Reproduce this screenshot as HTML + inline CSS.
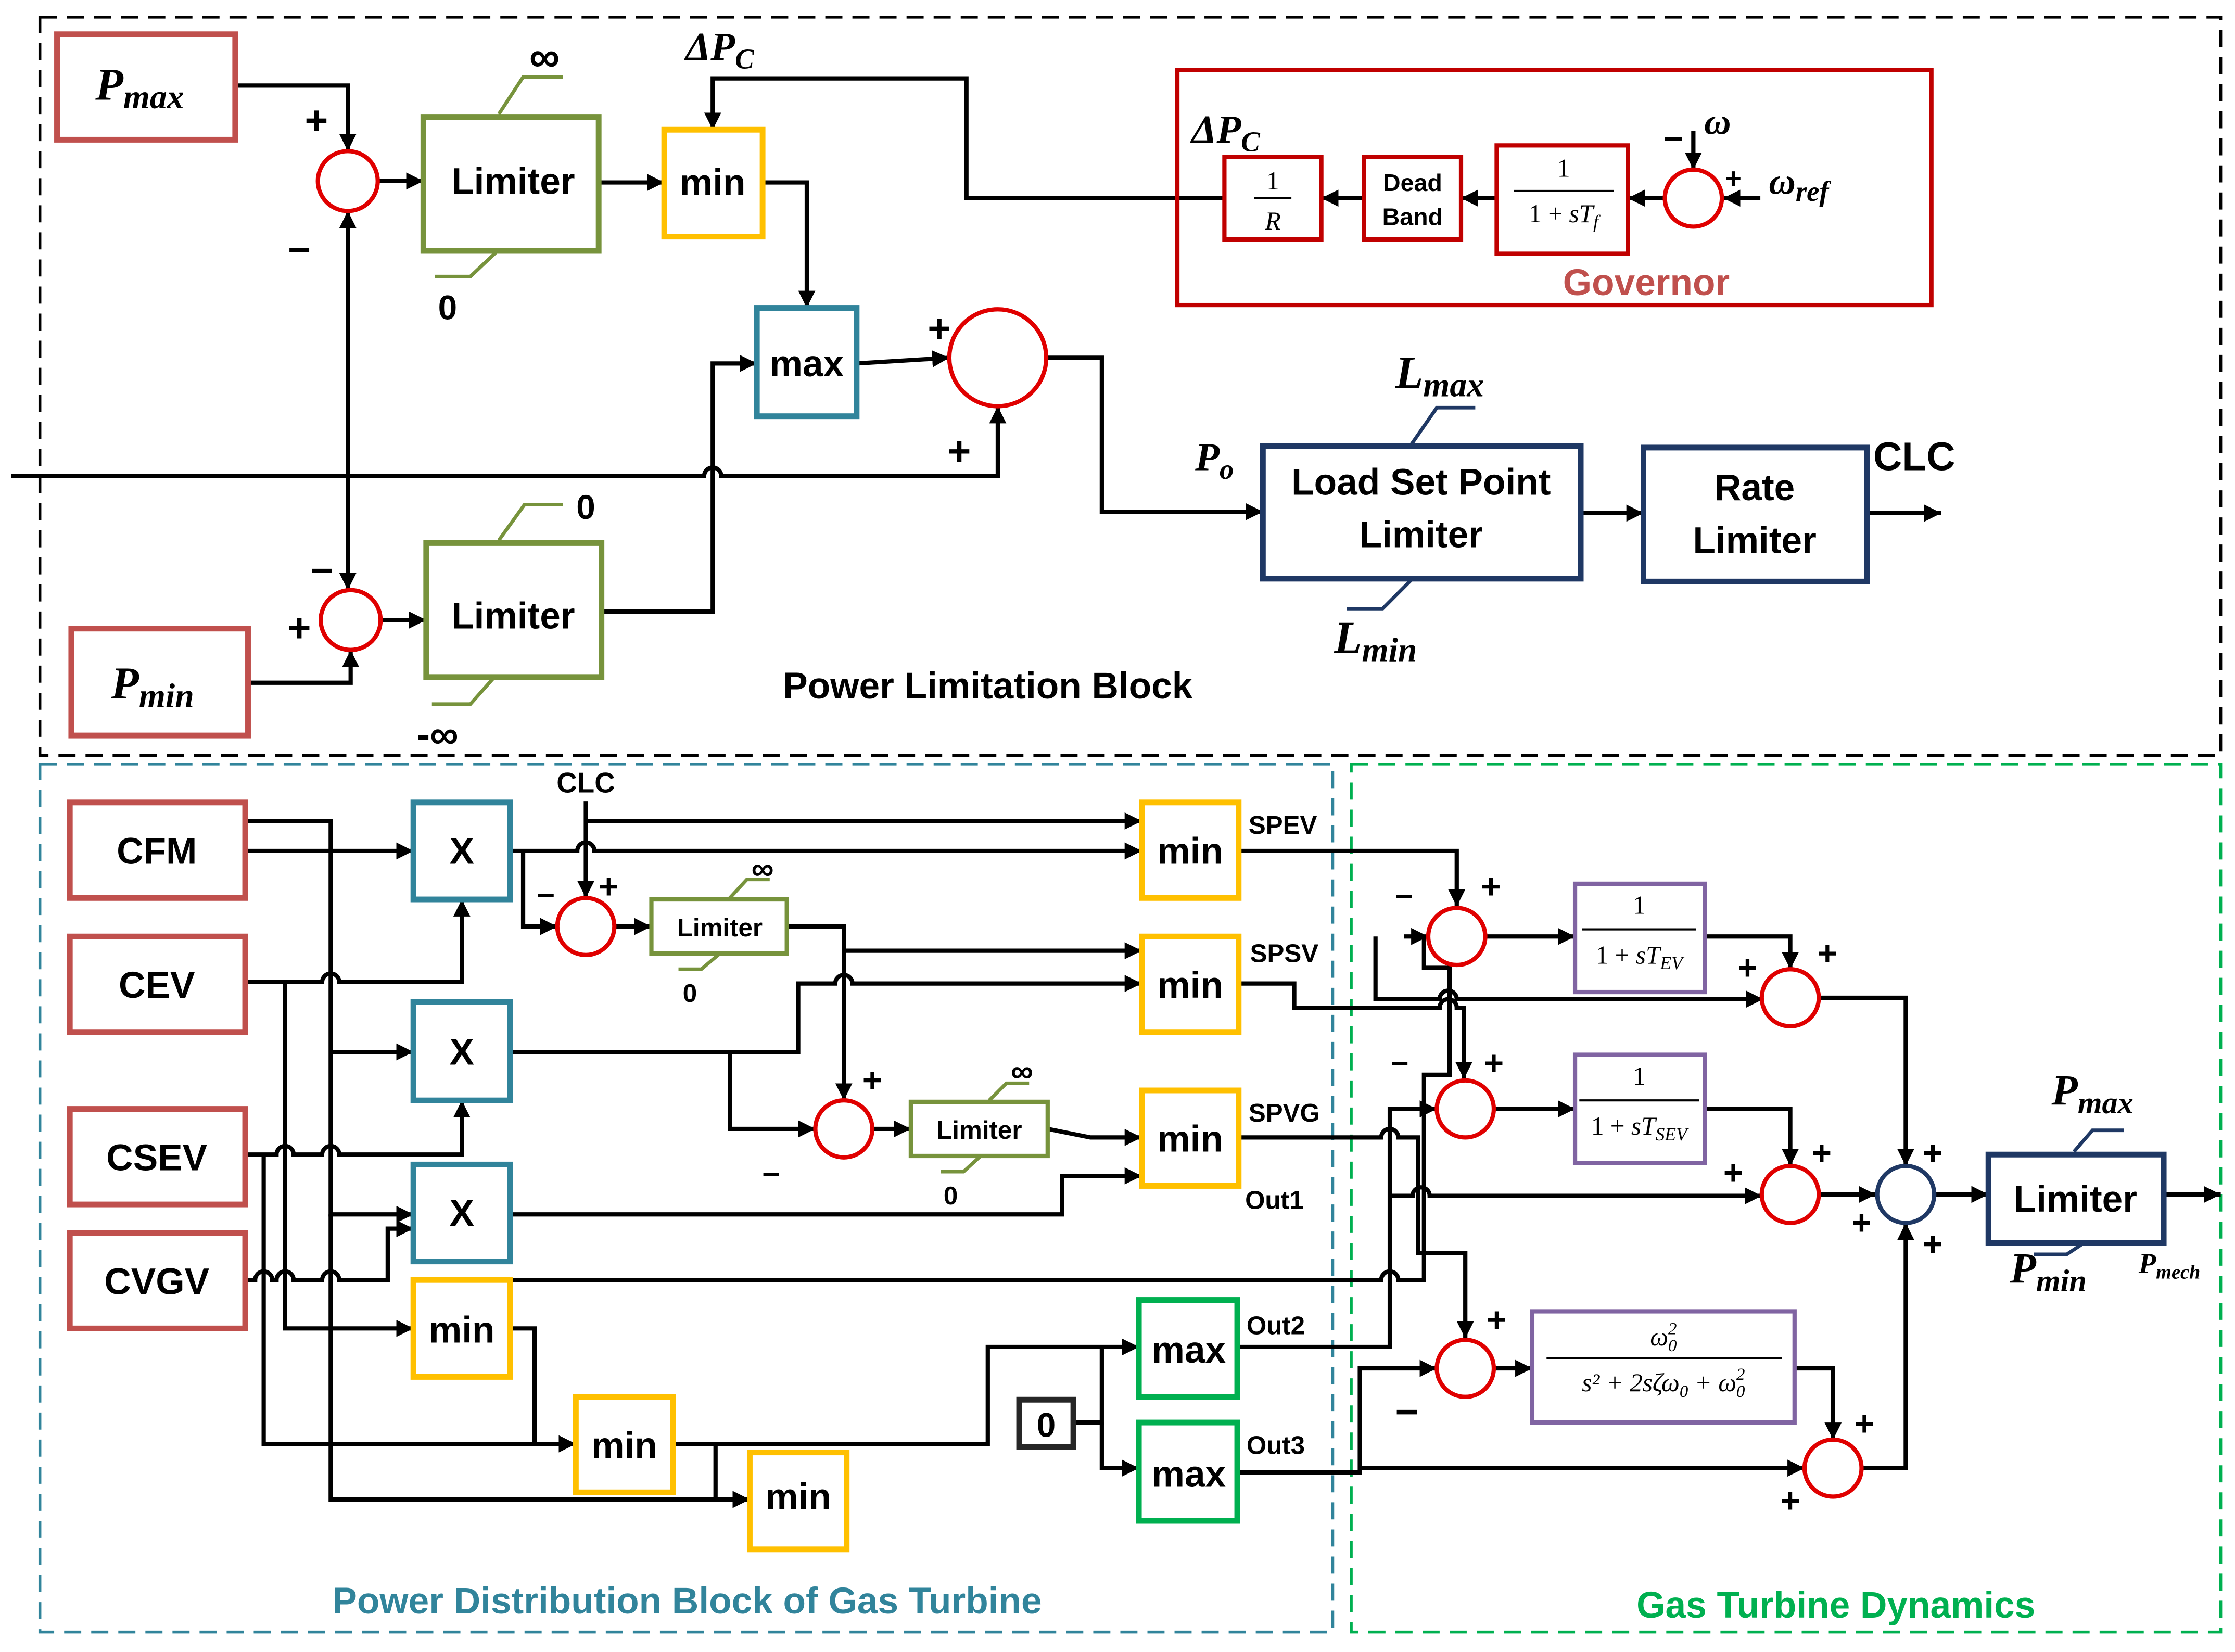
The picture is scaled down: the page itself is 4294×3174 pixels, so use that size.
<!DOCTYPE html>
<html><head><meta charset="utf-8"><style>
html,body{margin:0;padding:0;background:#fff;}
svg{display:block;}
text{font-family:"Liberation Sans",sans-serif;font-weight:bold;}
.s{font-family:"Liberation Serif",serif;font-style:italic;font-weight:bold;}
.f{font-family:"Liberation Serif",serif;font-weight:normal;}
</style></head><body>
<svg width="4294" height="3174" viewBox="0 0 1568 1159" xmlns="http://www.w3.org/2000/svg">
<defs>
<marker id="a" viewBox="0 0 10 10" refX="10" refY="5" markerWidth="4" markerHeight="4" orient="auto-start-reverse"><path d="M0,0 L10,5 L0,10 z" fill="#000"/></marker>
</defs>
<rect width="1568" height="1159" fill="#fff"/>
<rect x="28" y="12" width="1530" height="518" fill="none" stroke="#000" stroke-width="2" stroke-dasharray="12,7"/>
<rect x="28" y="536" width="907" height="609" fill="none" stroke="#31849b" stroke-width="2" stroke-dasharray="12,7"/>
<rect x="948" y="536" width="610" height="609" fill="none" stroke="#00b050" stroke-width="2" stroke-dasharray="12,7"/>

<g fill="none" stroke="#000" stroke-width="3" marker-end="url(#a)">
<path d="M165,60 H244 V106"/>
<path d="M265,127 H297"/>
<path d="M420,128 H466"/>
<path d="M535,128 H566 V216"/>
<path d="M859,139 H678 V55 H500 V91"/>
<path d="M601,255 L666,251"/>
<path d="M734,251 H773 V359 H886"/>
<path d="M8,334 H494 A6,6 0 0 1 506,334 H700 V285"/>
<path d="M244,334 V148"/>
<path d="M244,334 V414"/>
<path d="M174,479 H246 V456"/>
<path d="M267,435 H299"/>
<path d="M422,429 H500 V255 H531"/>
<path d="M1109,360 H1153"/>
<path d="M1310,360 H1362"/>
<path d="M1188,92 V119"/>
<path d="M1235,139 H1209"/>
<path d="M1168,139 H1142"/>
<path d="M1050,139 H1025"/>
<path d="M957,139 H927"/>
<path d="M172,597 H290"/>
<path d="M172,576 H232 V852 H290"/>
<path d="M232,738 H290"/>
<path d="M172,689 H226 A6,6 0 0 1 238,689 H324 V631"/>
<path d="M200,689 V932 H290"/>
<path d="M172,810 H194 A6,6 0 0 1 206,810 H226 A6,6 0 0 1 238,810 H324 V772"/>
<path d="M185,810 V1013 H404"/>
<path d="M172,898 H179 A6,6 0 0 1 191,898 H194 A6,6 0 0 1 206,898 H226 A6,6 0 0 1 238,898 H272 V862 H290"/>
<path d="M232,852 V1052 H526"/>
<path d="M358,597 H405 A6,6 0 0 1 417,597 H801"/>
<path d="M411,576 H801"/>
<path d="M411,562 V630"/>
<path d="M367,597 V650 H391"/>
<path d="M431,650 H457"/>
<path d="M552,650 H592 V772"/>
<path d="M592,667 H801"/>
<path d="M358,738 H560 V690 H586 A6,6 0 0 1 598,690 H801"/>
<path d="M512,738 V792 H572"/>
<path d="M612,792 H639"/>
<path d="M735,792 L765,798 H801"/>
<path d="M358,852 H745 V825 H801"/>
<path d="M358,932 H375 V1013 H404"/>
<path d="M472,1013 H693 V945 H799"/>
<path d="M502,1013 V1052 H526"/>
<path d="M773,998 V1030 H799"/>
<path d="M869,597 H1022 V636"/>
<path d="M965,657 V701 H1010 A6,6 0 0 1 1022,701 H1237"/>
<path d="M985,657 H1002"/>
<path d="M869,690 H908 V707 H1010 A6,6 0 0 1 1022,707 H1027 V757"/>
<path d="M1042,657 H1105"/>
<path d="M1196,657 H1256 V680"/>
<path d="M1276,700 H1337 V818"/>
<path d="M868,945 H975 V778 H1008"/>
<path d="M975,839 H991 A6,6 0 0 1 1003,839 H1236"/>
<path d="M1048,778 H1105"/>
<path d="M1196,778 H1256 V818"/>
<path d="M869,798 H969 A6,6 0 0 1 981,798 H995 V879 H1028 V939"/>
<path d="M1276,838 H1316"/>
<path d="M1357,838 H1395"/>
<path d="M868,1033 H954 V960 H1008"/>
<path d="M954,1030 H1266"/>
<path d="M1048,960 H1075"/>
<path d="M1259,960 H1286 V1010"/>
<path d="M1306,1030 H1337 V858"/>
<path d="M1518,838 H1558"/>
</g>
<g fill="none" stroke="#000" stroke-width="3">
<path d="M325,898 H969 A6,6 0 0 1 981,898 H999 V754 H1017 V679 H999 V657"/>
<path d="M753,998 H773 V945"/>
</g>

<g fill="#fff" stroke-width="4">
<rect x="40" y="24" width="125" height="74" stroke="#c0504d"/>
<rect x="50" y="441" width="124" height="75" stroke="#c0504d"/>
<rect x="297" y="82" width="123" height="94" stroke="#77933c"/>
<rect x="299" y="381" width="123" height="94" stroke="#77933c"/>
<rect x="466" y="91" width="69" height="75" stroke="#ffc000"/>
<rect x="531" y="216" width="70" height="76" stroke="#31849b"/>
<rect x="886" y="313" width="223" height="93" stroke="#1f3864"/>
<rect x="1153" y="314" width="157" height="94" stroke="#1f3864"/>
<rect x="859" y="110" width="68" height="58" stroke="#c00000" stroke-width="3"/>
<rect x="957" y="110" width="68" height="58" stroke="#c00000" stroke-width="3"/>
<rect x="1050" y="102" width="92" height="76" stroke="#c00000" stroke-width="3"/>
<rect x="49" y="563" width="123" height="67" stroke="#c0504d"/>
<rect x="49" y="657" width="123" height="67" stroke="#c0504d"/>
<rect x="49" y="778" width="123" height="67" stroke="#c0504d"/>
<rect x="49" y="865" width="123" height="67" stroke="#c0504d"/>
<rect x="290" y="563" width="68" height="68" stroke="#31849b"/>
<rect x="290" y="703" width="68" height="69" stroke="#31849b"/>
<rect x="290" y="817" width="68" height="68" stroke="#31849b"/>
<rect x="801" y="563" width="68" height="67" stroke="#ffc000"/>
<rect x="801" y="657" width="68" height="67" stroke="#ffc000"/>
<rect x="801" y="765" width="68" height="67" stroke="#ffc000"/>
<rect x="290" y="898" width="68" height="68" stroke="#ffc000"/>
<rect x="404" y="980" width="68" height="67" stroke="#ffc000"/>
<rect x="526" y="1019" width="68" height="68" stroke="#ffc000"/>
<rect x="799" y="912" width="69" height="68" stroke="#00b050"/>
<rect x="799" y="998" width="69" height="69" stroke="#00b050"/>
<rect x="715" y="982" width="38" height="33" stroke="#262626"/>
<rect x="457" y="631" width="95" height="38" stroke="#77933c" stroke-width="3"/>
<rect x="639" y="773" width="96" height="38" stroke="#77933c" stroke-width="3"/>
<rect x="1105" y="620" width="91" height="76" stroke="#8064a2" stroke-width="3"/>
<rect x="1105" y="740" width="91" height="76" stroke="#8064a2" stroke-width="3"/>
<rect x="1075" y="920" width="184" height="78" stroke="#8064a2" stroke-width="3"/>
<rect x="1395" y="810" width="123" height="62" stroke="#1f3864"/>
</g>
<rect x="826" y="49" width="529" height="165" fill="none" stroke="#c00000" stroke-width="3"/>

<g fill="#fff" stroke="#e00000" stroke-width="3">
<circle cx="244" cy="127" r="21"/><circle cx="246" cy="435" r="21"/>
<circle cx="700" cy="251" r="34"/><circle cx="1188" cy="139" r="20"/>
<circle cx="411" cy="650" r="20"/><circle cx="592" cy="792" r="20"/>
<circle cx="1022" cy="657" r="20"/><circle cx="1256" cy="700" r="20"/>
<circle cx="1028" cy="778" r="20"/><circle cx="1256" cy="838" r="20"/>
<circle cx="1028" cy="960" r="20"/><circle cx="1286" cy="1030" r="20"/>
</g>
<circle cx="1337" cy="838" r="20" fill="#fff" stroke="#1f3864" stroke-width="3"/>

<g fill="none" stroke-width="2.5">
<path d="M350,80 L367,54 H395" stroke="#77933c"/>
<path d="M305,194 H330 L348,177" stroke="#77933c"/>
<path d="M350,379 L368,354 H395" stroke="#77933c"/>
<path d="M303,494 H330 L346,476" stroke="#77933c"/>
<path d="M990,312 L1008,286 H1035" stroke="#1f3864"/>
<path d="M945,427 H970 L990,407" stroke="#1f3864"/>
<path d="M1455,808 L1468,793 H1490" stroke="#1f3864"/>
<path d="M1427,880 H1450 L1462,872" stroke="#1f3864"/>
<path d="M512,630 L524,617 H540" stroke="#77933c"/>
<path d="M476,680 H492 L505,669" stroke="#77933c"/>
<path d="M694,772 L706,760 H722" stroke="#77933c"/>
<path d="M660,822 H676 L688,811" stroke="#77933c"/>
</g>

<g text-anchor="middle">
<text x="98" y="70" class="s" font-size="32">P<tspan font-size="24" dy="6">max</tspan></text>
<text x="107" y="490" class="s" font-size="32">P<tspan font-size="24" dy="6">min</tspan></text>
<text x="360" y="136" font-size="26">Limiter</text>
<text x="360" y="441" font-size="26">Limiter</text>
<text x="500" y="137" font-size="26">min</text>
<text x="566" y="264" font-size="26">max</text>
<text x="382" y="50" font-size="30">∞</text>
<text x="314" y="224" font-size="24">0</text>
<text x="411" y="364" font-size="24">0</text>
<text x="307" y="525" font-size="28">-∞</text>
<text x="222" y="94" font-size="28">+</text>
<text x="210" y="183" font-size="28">–</text>
<text x="210" y="450" font-size="28">+</text>
<text x="226" y="408" font-size="28">–</text>
<text x="659" y="240" font-size="28">+</text>
<text x="673" y="326" font-size="28">+</text>
<text x="505" y="42" class="s" font-size="28">ΔP<tspan font-size="20" dy="6">C</tspan></text>
<text x="860" y="100" class="s" font-size="28">ΔP<tspan font-size="20" dy="6">C</tspan></text>
<text x="852" y="330" class="s" font-size="28">P<tspan font-size="20" dy="6">o</tspan></text>
<text x="1010" y="272" class="s" font-size="32">L<tspan font-size="24" dy="6">max</tspan></text>
<text x="965" y="458" class="s" font-size="32">L<tspan font-size="24" dy="6">min</tspan></text>
<text x="997" y="347" font-size="26">Load Set Point</text>
<text x="997" y="384" font-size="26">Limiter</text>
<text x="1231" y="351" font-size="26">Rate</text>
<text x="1231" y="388" font-size="26">Limiter</text>
<text x="1343" y="330" font-size="28">CLC</text>
<text x="693" y="490" font-size="26">Power Limitation Block</text>
<text x="1155" y="207" font-size="26" fill="#c0504d">Governor</text>
<text x="893" y="133" class="f" font-size="18">1</text>
<line x1="880" y1="139" x2="906" y2="139" stroke="#000" stroke-width="1.5"/>
<text x="893" y="161" class="f" font-size="18" font-style="italic">R</text>
<text x="991" y="134" font-size="17">Dead</text>
<text x="991" y="158" font-size="17">Band</text>
<text x="1097" y="124" class="f" font-size="18">1</text>
<line x1="1062" y1="134" x2="1132" y2="134" stroke="#000" stroke-width="1.5"/>
<text x="1097" y="156" class="f" font-size="18">1 + <tspan font-style="italic">sT<tspan font-size="13" dy="4">f</tspan></tspan></text>
<text x="1205" y="94" class="s" font-size="26">ω</text>
<text x="1174" y="104" font-size="24">–</text>
<text x="1216" y="132" font-size="20">+</text>
<text x="1262" y="136" class="s" font-size="26">ω<tspan font-size="20" dy="5">ref</tspan></text>

<text x="110" y="606" font-size="26">CFM</text>
<text x="110" y="700" font-size="26">CEV</text>
<text x="110" y="821" font-size="26">CSEV</text>
<text x="110" y="908" font-size="26">CVGV</text>
<text x="324" y="606" font-size="26">X</text>
<text x="324" y="747" font-size="26">X</text>
<text x="324" y="860" font-size="26">X</text>
<text x="835" y="606" font-size="26">min</text>
<text x="835" y="700" font-size="26">min</text>
<text x="835" y="808" font-size="26">min</text>
<text x="324" y="942" font-size="26">min</text>
<text x="438" y="1023" font-size="26">min</text>
<text x="560" y="1059" font-size="26">min</text>
<text x="834" y="956" font-size="26">max</text>
<text x="834" y="1043" font-size="26">max</text>
<text x="734" y="1008" font-size="24">0</text>
<text x="505" y="657" font-size="18">Limiter</text>
<text x="687" y="799" font-size="18">Limiter</text>
<text x="535" y="617" font-size="22">∞</text>
<text x="484" y="703" font-size="18">0</text>
<text x="717" y="759" font-size="22">∞</text>
<text x="667" y="845" font-size="18">0</text>
<text x="411" y="556" font-size="20">CLC</text>
<text x="383" y="634" font-size="22">–</text>
<text x="427" y="630" font-size="24">+</text>
<text x="612" y="766" font-size="24">+</text>
<text x="541" y="830" font-size="22">–</text>
<text x="900" y="585" font-size="18">SPEV</text>
<text x="901" y="675" font-size="18">SPSV</text>
<text x="901" y="787" font-size="18">SPVG</text>
<text x="894" y="848" font-size="18">Out1</text>
<text x="895" y="936" font-size="18">Out2</text>
<text x="895" y="1020" font-size="18">Out3</text>
<text x="482" y="1132" font-size="26" fill="#31849b">Power Distribution Block of Gas Turbine</text>
<text x="1288" y="1135" font-size="26" fill="#00b050">Gas Turbine Dynamics</text>

<text x="985" y="635" font-size="22">–</text>
<text x="1046" y="630" font-size="24">+</text>
<text x="1226" y="687" font-size="24">+</text>
<text x="1282" y="677" font-size="24">+</text>
<text x="982" y="752" font-size="22">–</text>
<text x="1048" y="754" font-size="24">+</text>
<text x="1278" y="817" font-size="24">+</text>
<text x="1216" y="831" font-size="24">+</text>
<text x="1356" y="817" font-size="24">+</text>
<text x="1306" y="866" font-size="24">+</text>
<text x="1356" y="881" font-size="24">+</text>
<text x="1050" y="934" font-size="24">+</text>
<text x="987" y="1000" font-size="28">−</text>
<text x="1308" y="1007" font-size="24">+</text>
<text x="1256" y="1061" font-size="24">+</text>
<text x="1150" y="641" class="f" font-size="18">1</text>
<line x1="1110" y1="652" x2="1190" y2="652" stroke="#000" stroke-width="1.5"/>
<text x="1150" y="676" class="f" font-size="18">1 + <tspan font-style="italic">sT<tspan font-size="13" dy="4">EV</tspan></tspan></text>
<text x="1150" y="761" class="f" font-size="18">1</text>
<line x1="1108" y1="772" x2="1192" y2="772" stroke="#000" stroke-width="1.5"/>
<text x="1150" y="796" class="f" font-size="18">1 + <tspan font-style="italic">sT<tspan font-size="13" dy="4">SEV</tspan></tspan></text>
<text x="1167" y="944" class="f" font-size="18" font-style="italic">ω<tspan font-size="12" dy="4">0</tspan><tspan font-size="12" dx="-6" dy="-12">2</tspan></text>
<line x1="1085" y1="953" x2="1250" y2="953" stroke="#000" stroke-width="1.5"/>
<text x="1167" y="976" class="f" font-size="18" font-style="italic">s² + 2sζω<tspan font-size="12" dy="4">0</tspan><tspan dy="-4"> + ω</tspan><tspan font-size="12" dy="4">0</tspan><tspan font-size="12" dx="-6" dy="-12">2</tspan></text>
<text x="1456" y="850" font-size="26">Limiter</text>
<text x="1468" y="775" class="s" font-size="30">P<tspan font-size="22" dy="6">max</tspan></text>
<text x="1437" y="900" class="s" font-size="30">P<tspan font-size="22" dy="6">min</tspan></text>
<text x="1522" y="893" class="s" font-size="20">P<tspan font-size="14" dy="4">mech</tspan></text>
</g>
</svg>
</body></html>
